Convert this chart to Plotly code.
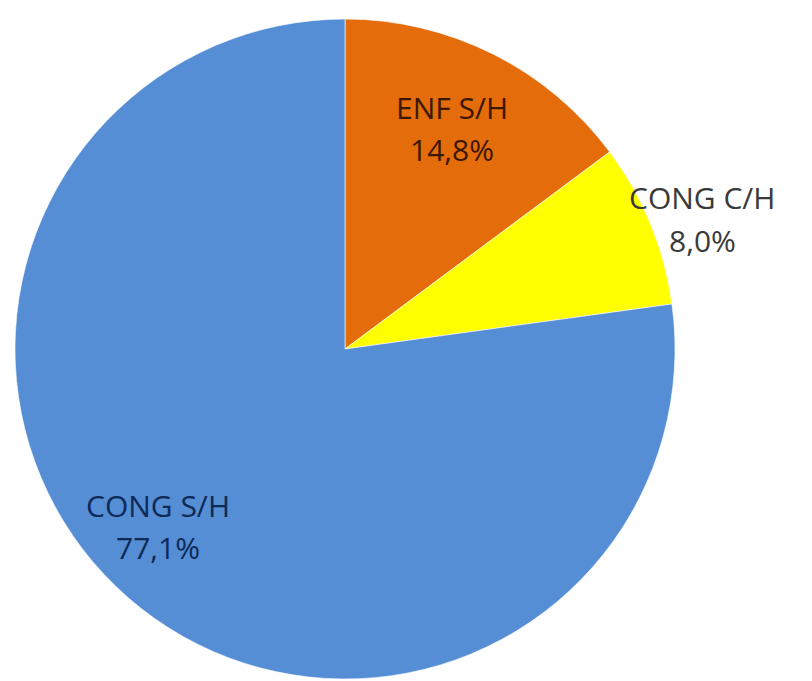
import plotly.graph_objects as go

labels = ["ENF S/H", "CONG C/H", "CONG S/H"]
values = [14.8, 8.0, 77.1]
colors = ["#E46C0A", "#FFFF00", "#558ED5"]
text_colors = ["#3D1800", "#3A3A3A", "#0E2A57"]

# label centres in pixels (x, y from top), page offset of 8px removed
label_pos = [(444, 99), (694, 190), (150, 497)]

W, H = 812, 681

fig = go.Figure()

fig.add_trace(go.Pie(
    labels=labels,
    values=values,
    sort=False,
    direction="clockwise",
    rotation=0,
    marker=dict(colors=colors, line=dict(color="rgba(255,255,255,0.6)", width=1)),
    textinfo="none",
    hoverinfo="label+percent",
    showlegend=False,
    domain=dict(x=[7 / W, 667 / W], y=[10 / H, 670 / H])
))

for lab, val, col, (px, py) in zip(labels, values, text_colors, label_pos):
    pct = f"{val:.1f}".replace(".", ",") + "%"
    for i, line in enumerate([lab, pct]):
        fig.add_annotation(
            x=px / W, y=1 - (py + i * 42) / H,
            xref="paper", yref="paper",
            text=line, showarrow=False,
            xanchor="center", yanchor="middle",
            font=dict(family="Open Sans", size=30, color=col)
        )

fig.update_layout(
    width=W,
    height=H,
    margin=dict(l=0, r=0, t=0, b=0),
    paper_bgcolor="white",
    plot_bgcolor="white"
)

fig.write_html("out.html")
